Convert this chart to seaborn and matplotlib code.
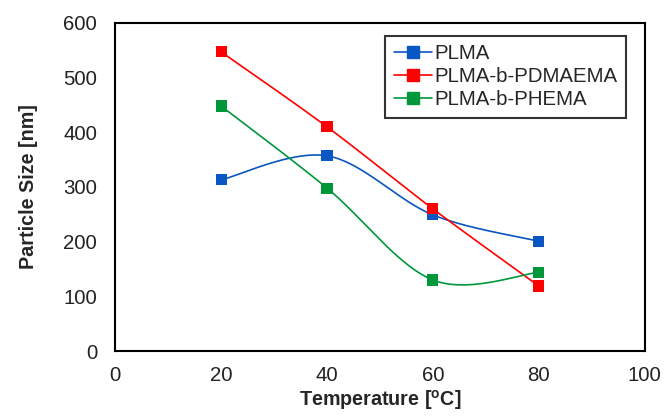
import numpy as np
import pandas as pd
import seaborn as sns
import matplotlib.pyplot as plt
from matplotlib.lines import Line2D

temperature = [20, 40, 60, 80]
plma = [313, 357, 249, 201]
plma_b_pdmaema = [547, 410, 260, 119]
plma_b_phema = [448, 298, 130, 144]

series_names = ['PLMA', 'PLMA-b-PDMAEMA', 'PLMA-b-PHEMA']
series_values = [plma, plma_b_pdmaema, plma_b_phema]
colors = ['#0a56c2', '#ff0000', '#00973a']


def excel_smooth(x, y, n=60):
    # Catmull-Rom style bezier, similar to Excel's "smoothed line"
    x = np.asarray(x, float)
    y = np.asarray(y, float)
    px = np.concatenate([[x[0]], x, [x[-1]]])
    py = np.concatenate([[y[0]], y, [y[-1]]])
    xs, ys = [], []
    t = np.linspace(0, 1, n)
    for i in range(1, len(px) - 2):
        p0 = np.array([px[i], py[i]])
        p3 = np.array([px[i + 1], py[i + 1]])
        c1 = p0 + (np.array([px[i + 1], py[i + 1]]) - np.array([px[i - 1], py[i - 1]])) / 6
        c2 = p3 - (np.array([px[i + 2], py[i + 2]]) - np.array([px[i], py[i]])) / 6
        b = ((1 - t) ** 3)[:, None] * p0 + (3 * (1 - t) ** 2 * t)[:, None] * c1 \
            + (3 * (1 - t) * t ** 2)[:, None] * c2 + (t ** 3)[:, None] * p3
        xs.extend(b[:, 0])
        ys.extend(b[:, 1])
    return np.array(xs), np.array(ys)


sns.set_style('white')
plt.rcParams['font.family'] = ['Liberation Sans', 'DejaVu Sans']
plt.rcParams['mathtext.fontset'] = 'custom'
plt.rcParams['mathtext.rm'] = 'Liberation Sans'
plt.rcParams['mathtext.bf'] = 'Liberation Sans:bold'

fig = plt.figure(figsize=(6.66, 4.16), dpi=100)
ax = fig.add_axes([0.173, 0.156, 0.795, 0.789])

for name, vals, col in zip(series_names, series_values, colors):
    sx, sy = excel_smooth(temperature, vals)
    curve = pd.DataFrame({'x': sx, 'y': sy})
    sns.lineplot(data=curve, x='x', y='y', ax=ax, color=col, linewidth=1.2,
                 sort=False, estimator=None)
    pts = pd.DataFrame({'x': temperature, 'y': vals})
    sns.scatterplot(data=pts, x='x', y='y', ax=ax, color=col, marker='s',
                    s=64, edgecolor='none', zorder=3)

ax.set_xlim(0, 100)
ax.set_ylim(0, 600)
ax.set_xticks(range(0, 101, 20))
ax.set_yticks(range(0, 601, 100))
ax.tick_params(axis='x', length=0, labelsize=14.7, pad=11, colors='#222222')
ax.tick_params(axis='y', length=0, labelsize=14.7, pad=13, colors='#222222')
ax.set_xlabel(r'Temperature [$^{\mathbf{o}}$C]', fontsize=14.2, fontweight='bold', labelpad=2)
ax.set_ylabel('Particle Size [nm]', fontsize=14.2, fontweight='bold', labelpad=18)
for sp in ax.spines.values():
    sp.set_color('black')
    sp.set_linewidth(1.5)

handles = [Line2D([], [], color=c, marker='s', markersize=8, linewidth=1.2)
           for c in colors]
leg = ax.legend(handles, series_names, loc='upper right', bbox_to_anchor=(0.964, 0.96),
                fontsize=14.7, frameon=True, fancybox=False, borderpad=0.4,
                labelspacing=0.2, handlelength=1.9, handletextpad=0.1,
                borderaxespad=0)
leg.get_frame().set_edgecolor('black')
leg.get_frame().set_linewidth(1.5)

fig.savefig('out.png', dpi=100)
